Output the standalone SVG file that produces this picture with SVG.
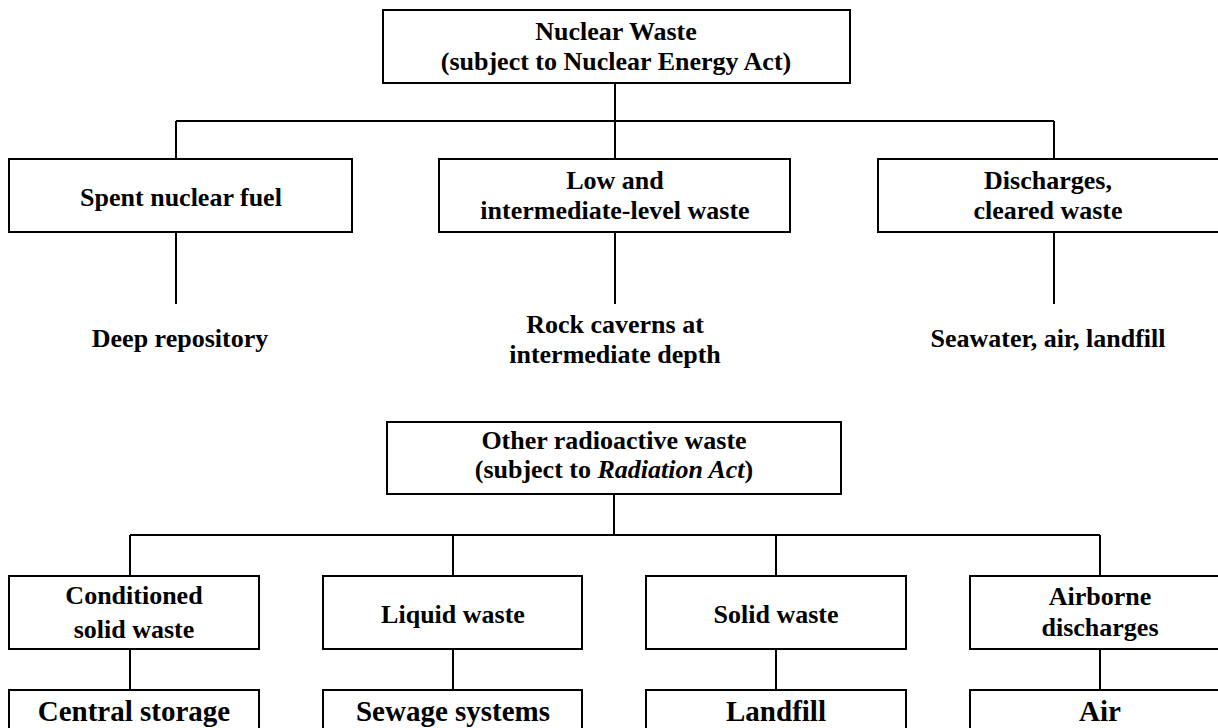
<svg xmlns="http://www.w3.org/2000/svg" width="1218" height="728" viewBox="0 0 1218 728">
  <style>
    .box { fill: #ffffff; stroke: #000000; stroke-width: 2; }
    .ln { fill: none; stroke: #000000; stroke-width: 2; }
    text { font-family: "Liberation Serif", "Times New Roman", serif; font-weight: bold; fill: #000000; text-anchor: middle; }
    .t { font-size: 26px; }
    .lg { font-size: 29px; }
  </style>

  <!-- connectors -->
  <g id="connectors">
    <!-- nuclear waste tree -->
    <line class="ln" x1="615" y1="83" x2="615" y2="121"/>
    <line class="ln" x1="176" y1="121" x2="1054" y2="121"/>
    <line class="ln" x1="176" y1="121" x2="176" y2="159"/>
    <line class="ln" x1="615" y1="121" x2="615" y2="159"/>
    <line class="ln" x1="1054" y1="121" x2="1054" y2="159"/>
    <line class="ln" x1="176" y1="232" x2="176" y2="304"/>
    <line class="ln" x1="615" y1="232" x2="615" y2="304"/>
    <line class="ln" x1="1054" y1="232" x2="1054" y2="304"/>
    <!-- other radioactive waste tree -->
    <line class="ln" x1="614" y1="494" x2="614" y2="535"/>
    <line class="ln" x1="130" y1="535" x2="1100" y2="535"/>
    <line class="ln" x1="130" y1="535" x2="130" y2="576"/>
    <line class="ln" x1="453" y1="535" x2="453" y2="576"/>
    <line class="ln" x1="776" y1="535" x2="776" y2="576"/>
    <line class="ln" x1="1100" y1="535" x2="1100" y2="576"/>
    <line class="ln" x1="130" y1="649" x2="130" y2="690"/>
    <line class="ln" x1="453" y1="649" x2="453" y2="690"/>
    <line class="ln" x1="776" y1="649" x2="776" y2="690"/>
    <line class="ln" x1="1100" y1="649" x2="1100" y2="690"/>
  </g>

  <g id="nuclear-waste">
    <rect class="box" x="383" y="10" width="467" height="73"/>
    <text class="t" x="616" y="40">Nuclear Waste</text>
    <text class="t" x="616" y="70">(subject to Nuclear Energy Act)</text>
  </g>

  <g id="spent-fuel">
    <rect class="box" x="9" y="159" width="343" height="73"/>
    <text class="t" x="181" y="206">Spent nuclear fuel</text>
  </g>

  <g id="low-intermediate">
    <rect class="box" x="439" y="159" width="351" height="73"/>
    <text class="t" x="615" y="189">Low and</text>
    <text class="t" x="615" y="219">intermediate-level waste</text>
  </g>

  <g id="discharges">
    <rect class="box" x="878" y="159" width="352" height="73"/>
    <text class="t" x="1048" y="189">Discharges,</text>
    <text class="t" x="1048" y="219">cleared waste</text>
  </g>

  <g id="deep-repository">
    <text class="t" x="180" y="347">Deep repository</text>
  </g>

  <g id="rock-caverns">
    <text class="t" x="615" y="333">Rock caverns at</text>
    <text class="t" x="615" y="363">intermediate depth</text>
  </g>

  <g id="seawater">
    <text class="t" x="1048" y="347">Seawater, air, landfill</text>
  </g>

  <g id="other-radioactive">
    <rect class="box" x="387" y="422" width="454" height="72"/>
    <text class="t" x="614" y="449">Other radioactive waste</text>
    <text class="t" x="614" y="478">(subject to <tspan font-style="italic">Radiation Act</tspan>)</text>
  </g>

  <g id="conditioned">
    <rect class="box" x="9" y="576" width="250" height="73"/>
    <text class="t" x="134" y="604">Conditioned</text>
    <text class="t" x="134" y="638">solid waste</text>
  </g>

  <g id="liquid">
    <rect class="box" x="323" y="576" width="259" height="73"/>
    <text class="t" x="453" y="623">Liquid waste</text>
  </g>

  <g id="solid">
    <rect class="box" x="646" y="576" width="260" height="73"/>
    <text class="t" x="776" y="623">Solid waste</text>
  </g>

  <g id="airborne">
    <rect class="box" x="970" y="576" width="262" height="73"/>
    <text class="t" x="1100" y="605">Airborne</text>
    <text class="t" x="1100" y="636">discharges</text>
  </g>

  <g id="central-storage">
    <rect class="box" x="9" y="690" width="250" height="60"/>
    <text class="lg" x="134" y="721">Central storage</text>
  </g>

  <g id="sewage">
    <rect class="box" x="323" y="690" width="259" height="60"/>
    <text class="lg" x="453" y="721">Sewage systems</text>
  </g>

  <g id="landfill">
    <rect class="box" x="646" y="690" width="260" height="60"/>
    <text class="lg" x="776" y="721">Landfill</text>
  </g>

  <g id="air">
    <rect class="box" x="970" y="690" width="262" height="60"/>
    <text class="lg" x="1100" y="721">Air</text>
  </g>
</svg>
